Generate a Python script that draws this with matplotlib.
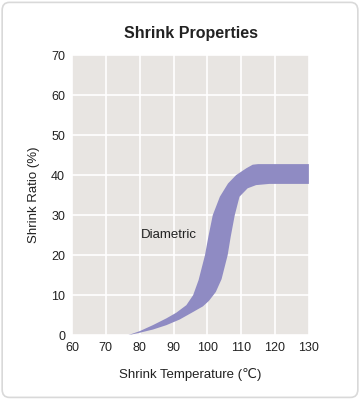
import matplotlib.pyplot as plt
from matplotlib.patches import FancyBboxPatch

plt.rcParams['font.family'] = ['Liberation Sans', 'DejaVu Sans']

# upper (left) edge of the band
upper_t = [76.6, 80, 83.9, 87.9, 90.8, 93.8, 95.8, 97.4, 99.3, 100.3, 101.6, 103.7,
           106.1, 108.5, 111.5, 113.4, 115, 130]
upper_v = [0, 1.0, 2.5, 4.2, 5.6, 7.5, 10.0, 13.75, 20.0, 24.6, 30.0, 34.6,
           37.9, 40.0, 41.7, 42.6, 42.75, 42.75]

# lower (right) edge of the band
lower_t = [76.6, 80, 83.9, 87.9, 91.8, 95.8, 98.7, 100.5, 102.5, 104.2, 106.0,
           106.9, 108.1, 109.5, 111.9, 114.4, 118.3, 130]
lower_v = [0, 0.6, 1.4, 2.5, 3.9, 5.8, 7.2, 8.6, 10.8, 14.0, 20.0,
           24.6, 30.0, 34.6, 36.7, 37.5, 37.8, 37.8]

xticks = [60, 70, 80, 90, 100, 110, 120, 130]
yticks = [0, 10, 20, 30, 40, 50, 60, 70]

fig = plt.figure(figsize=(3.6, 3.99), dpi=100)
border = FancyBboxPatch((0.006, 0.004), 0.988, 0.99, boxstyle='round,pad=0,rounding_size=0.02',
                        transform=fig.transFigure, facecolor='none', edgecolor='#d9d9d9',
                        linewidth=1.2, zorder=-1)
fig.patches.append(border)

ax = fig.add_axes([0.2, 0.16, 0.658, 0.702])
ax.set_facecolor('#e8e5e2')

xs = upper_t + lower_t[::-1]
ys = upper_v + lower_v[::-1]
ax.fill(xs, ys, color='#8f8bc3', linewidth=0)

ax.set_xlim(60, 130)
ax.set_ylim(0, 70)
ax.set_xticks(xticks)
ax.set_yticks(yticks)
ax.grid(color='white', linewidth=1.2)
ax.set_axisbelow(True)
for s in ax.spines.values():
    s.set_visible(False)
ax.tick_params(length=0, labelsize=9, colors='#222222', pad=5)

ax.text(80.5, 25, 'Diametric', fontsize=9.5, color='#222222', va='center')

ax.set_xlabel('Shrink Temperature (\u2103)', fontsize=9.5, color='#222222', labelpad=10)
ax.set_ylabel('Shrink Ratio (%)', fontsize=9.5, color='#222222', labelpad=8)
fig.text(0.53, 0.917, 'Shrink Properties', ha='center', va='center',
         fontsize=11.5, fontweight='bold', color='#222222')

fig.savefig('out.png', dpi=100)
